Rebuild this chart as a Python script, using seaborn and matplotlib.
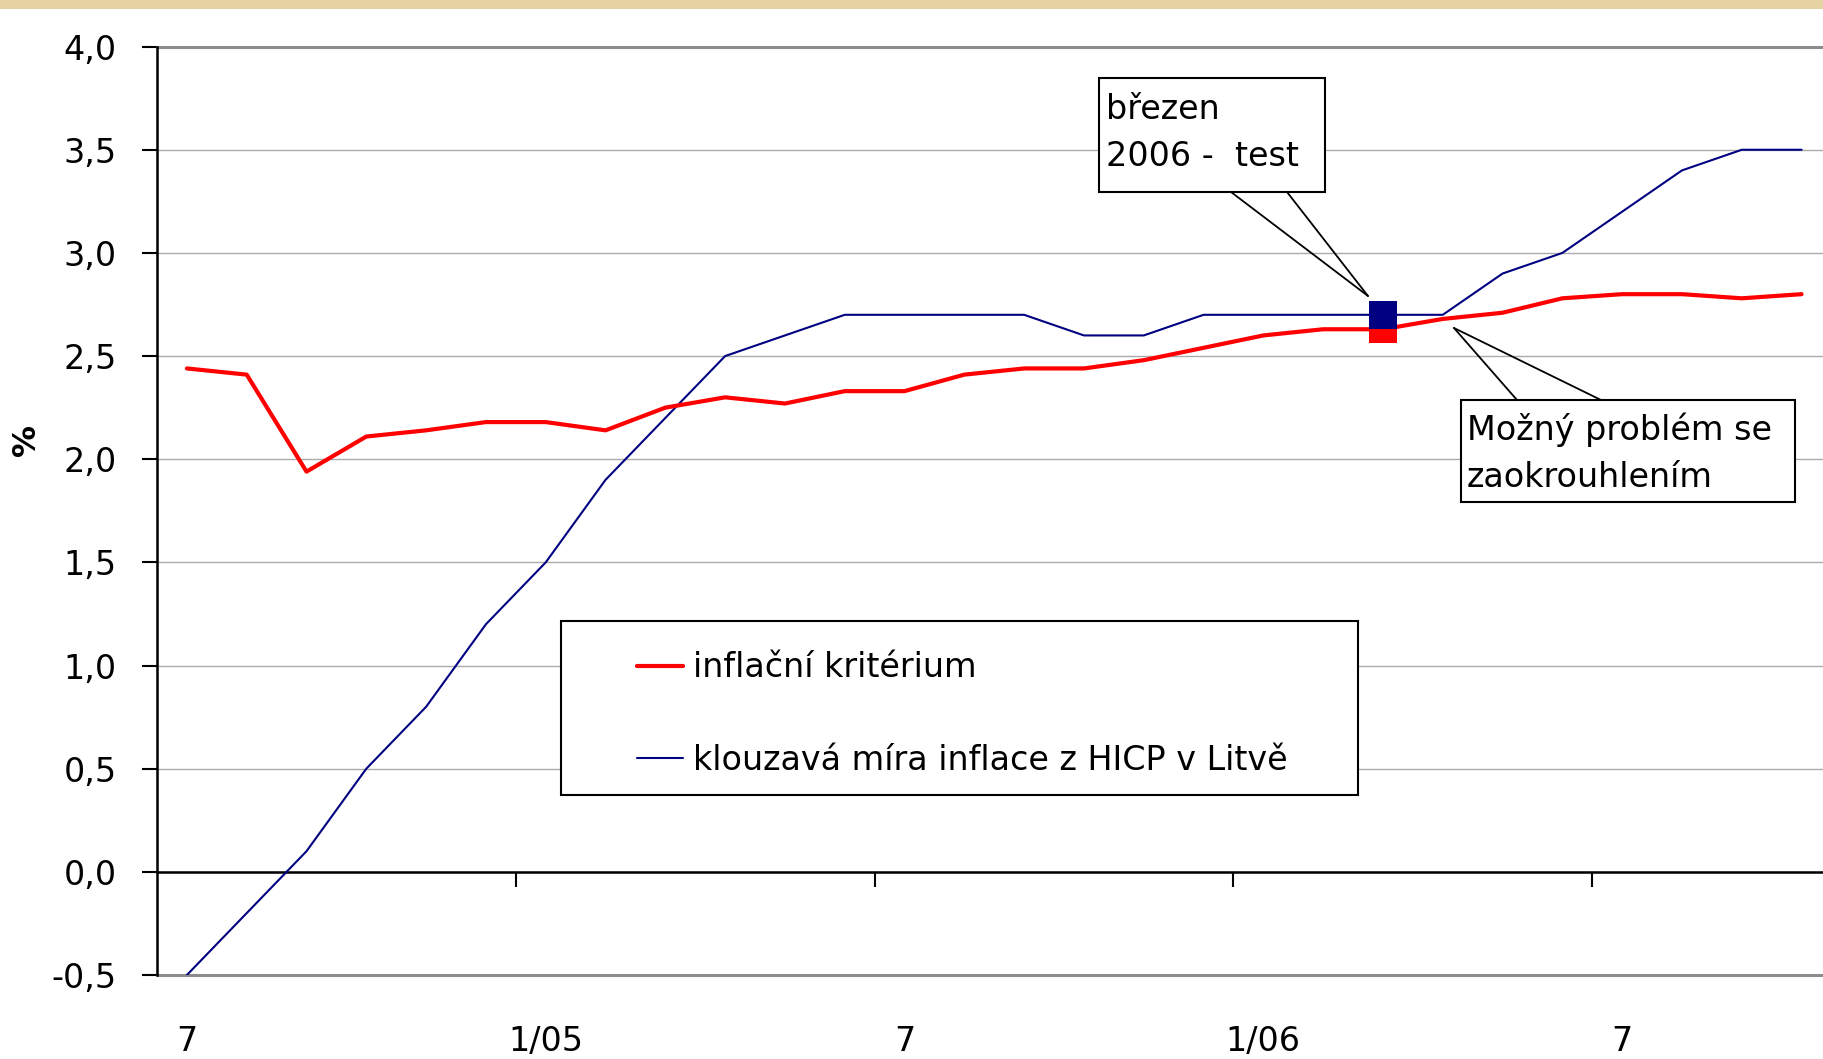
import numpy as np
import pandas as pd
import matplotlib
matplotlib.use("Agg")
import matplotlib.pyplot as plt
import seaborn as sns
from matplotlib.patches import Rectangle
from matplotlib.lines import Line2D
from matplotlib.ticker import FixedLocator, FixedFormatter, NullFormatter

# ---------------- data ----------------
months = ["7/04", "8/04", "9/04", "10/04", "11/04", "12/04",
          "1/05", "2/05", "3/05", "4/05", "5/05", "6/05",
          "7/05", "8/05", "9/05", "10/05", "11/05", "12/05",
          "1/06", "2/06", "3/06", "4/06", "5/06", "6/06",
          "7/06", "8/06", "9/06", "10/06"]
criterion = [2.44, 2.41, 1.94, 2.11, 2.14, 2.18, 2.18, 2.14, 2.25, 2.30,
             2.27, 2.33, 2.33, 2.41, 2.44, 2.44, 2.48, 2.54, 2.60, 2.63,
             2.63, 2.68, 2.71, 2.78, 2.80, 2.80, 2.78, 2.80]
lithuania = [-0.5, -0.2, 0.1, 0.5, 0.8, 1.2, 1.5, 1.9, 2.2, 2.5,
             2.6, 2.7, 2.7, 2.7, 2.7, 2.6, 2.6, 2.7, 2.7, 2.7,
             2.7, 2.7, 2.9, 3.0, 3.2, 3.4, 3.5, 3.5]
x_label_pos = [0, 6, 12, 18, 24]
x_labels = ["7", "1/05", "7", "1/06", "7"]
x_minor_pos = [5.5, 11.5, 17.5, 23.5]
y_ticks = [-0.5, 0.0, 0.5, 1.0, 1.5, 2.0, 2.5, 3.0, 3.5, 4.0]
y_tick_labels = ["-0,5", "0,0", "0,5", "1,0", "1,5", "2,0", "2,5", "3,0", "3,5", "4,0"]
legend_labels = ["inflační kritérium", "klouzavá míra inflace z HICP v Litvě"]
note_test = "březen\n2006 -  test"
note_round = "Možný problém se\nzaokrouhlením"
highlight_idx = 20
y_label = "%"

df = pd.DataFrame({"idx": np.arange(len(months)), "month": months,
                   "criterion": criterion, "lithuania": lithuania})

# ---------------- figure ----------------
sns.set_style("white")
plt.rcParams["font.family"] = ["DejaVu Sans"]
for key in ("text.color", "axes.labelcolor", "xtick.color", "ytick.color"):
    plt.rcParams[key] = "black"
W, H = 1823, 1059
fig = plt.figure(figsize=(W / 100, H / 100), dpi=100)
fig.patch.set_facecolor("white")

def fx(px):
    return px / W

def fy(py):
    return 1 - py / H

FS = 24

# textured top strip (approximated by a plain beige band)
fig.add_artist(Rectangle((0, fy(9)), 1, 9 / H, transform=fig.transFigure,
                         facecolor="#E6D3A3", edgecolor="none", zorder=0))

ax = fig.add_axes([fx(157), 84 / H, 1674.5 / W, 928.4 / H])
ax.set_facecolor("white")

RED = "#FF0000"
BLUE = "#000080"

sns.lineplot(data=df, x="idx", y="lithuania", color=BLUE, lw=1.5, ax=ax,
             zorder=3, legend=False)
sns.lineplot(data=df, x="idx", y="criterion", color=RED, lw=3.0, ax=ax,
             zorder=3, legend=False)

# highlighted March 2006 points
hi = df.iloc[[highlight_idx]]
ax.plot(hi["idx"], hi["criterion"], marker="s", ms=20, color=RED,
        linestyle="none", zorder=4, markeredgewidth=0)
ax.plot(hi["idx"], hi["lithuania"], marker="s", ms=20, color=BLUE,
        linestyle="none", zorder=4, markeredgewidth=0)

ax.set_xlim(-0.5, 27.5)
ax.set_ylim(-0.5, 4.0)

# y axis
ax.yaxis.set_major_locator(FixedLocator(y_ticks))
ax.yaxis.set_major_formatter(FixedFormatter(y_tick_labels))
ax.tick_params(axis="y", which="major", direction="out", length=11, width=1.5,
               color="black", pad=18, labelsize=FS, left=True, labelcolor="black")
ax.yaxis.grid(True, color="#ababab", lw=1.0)
ax.set_axisbelow(True)
for yv in (4.0, -0.5):
    ax.axhline(yv, color="#8c8c8c", lw=2.2, zorder=1, clip_on=False)

# x axis: spine at zero
ax.spines["bottom"].set_position(("data", 0))
ax.spines["bottom"].set_color("black")
ax.spines["bottom"].set_linewidth(1.8)
ax.spines["left"].set_color("black")
ax.spines["left"].set_linewidth(1.8)
ax.spines["top"].set_visible(False)
ax.spines["right"].set_visible(False)
ax.xaxis.set_major_locator(FixedLocator(x_label_pos))
ax.xaxis.set_major_formatter(FixedFormatter(x_labels))
ax.xaxis.set_minor_locator(FixedLocator(x_minor_pos))
ax.xaxis.set_minor_formatter(NullFormatter())
ax.tick_params(axis="x", which="major", length=0, pad=110, labelsize=FS,
               bottom=True, labelcolor="black")
ax.tick_params(axis="x", which="minor", direction="out", length=11, width=1.5,
               color="black", bottom=True)
ax.set_xlabel("")
ax.set_ylabel("")

fig.text(fx(26), fy(440), y_label, rotation=90, fontsize=23,
         fontweight="bold", ha="center", va="center", color="black")

# legend with its own box
box = Rectangle((fx(561), fy(795)), fx(797), 174 / H, transform=fig.transFigure,
                facecolor="white", edgecolor="black", lw=1.5, zorder=5,
                clip_on=False)
ax.add_patch(box)
handles = [Line2D([], [], color=RED, lw=3.0), Line2D([], [], color=BLUE, lw=1.5)]
leg = ax.legend(handles, legend_labels, loc="center left",
                bbox_to_anchor=(fx(637), fy(714)), bbox_transform=fig.transFigure,
                frameon=False, fontsize=FS, handlelength=1.38,
                handletextpad=0.3, labelspacing=1.78, borderpad=0,
                borderaxespad=0)
for t in leg.get_texts():
    t.set_color("black")
leg.set_zorder(6)

# callout notes
def callout(x0, y0, x1, y1, text, tx, ty, base_pts, tip):
    ax.add_patch(Rectangle((fx(x0), fy(y1)), fx(x1 - x0), (y1 - y0) / H,
                           transform=fig.transFigure, facecolor="white",
                           edgecolor="black", lw=1.5, zorder=5, clip_on=False))
    for bx, by in base_pts:
        ax.add_line(Line2D([fx(bx), fx(tip[0])], [fy(by), fy(tip[1])],
                           transform=fig.transFigure, color="black", lw=1.3,
                           zorder=6, clip_on=False))
    ax.text(fx(tx), fy(ty), text, transform=fig.transFigure, fontsize=FS,
            ha="left", va="center", linespacing=1.55, zorder=7, color="black")

callout(1099, 78, 1325, 192, note_test, 1106, 133,
        [(1231, 192), (1287, 192)], (1368, 296))
callout(1461, 400, 1795, 502, note_round, 1467, 453,
        [(1517, 400), (1601, 400)], (1454, 328))

fig.savefig("out.png", dpi=100, facecolor="white")
